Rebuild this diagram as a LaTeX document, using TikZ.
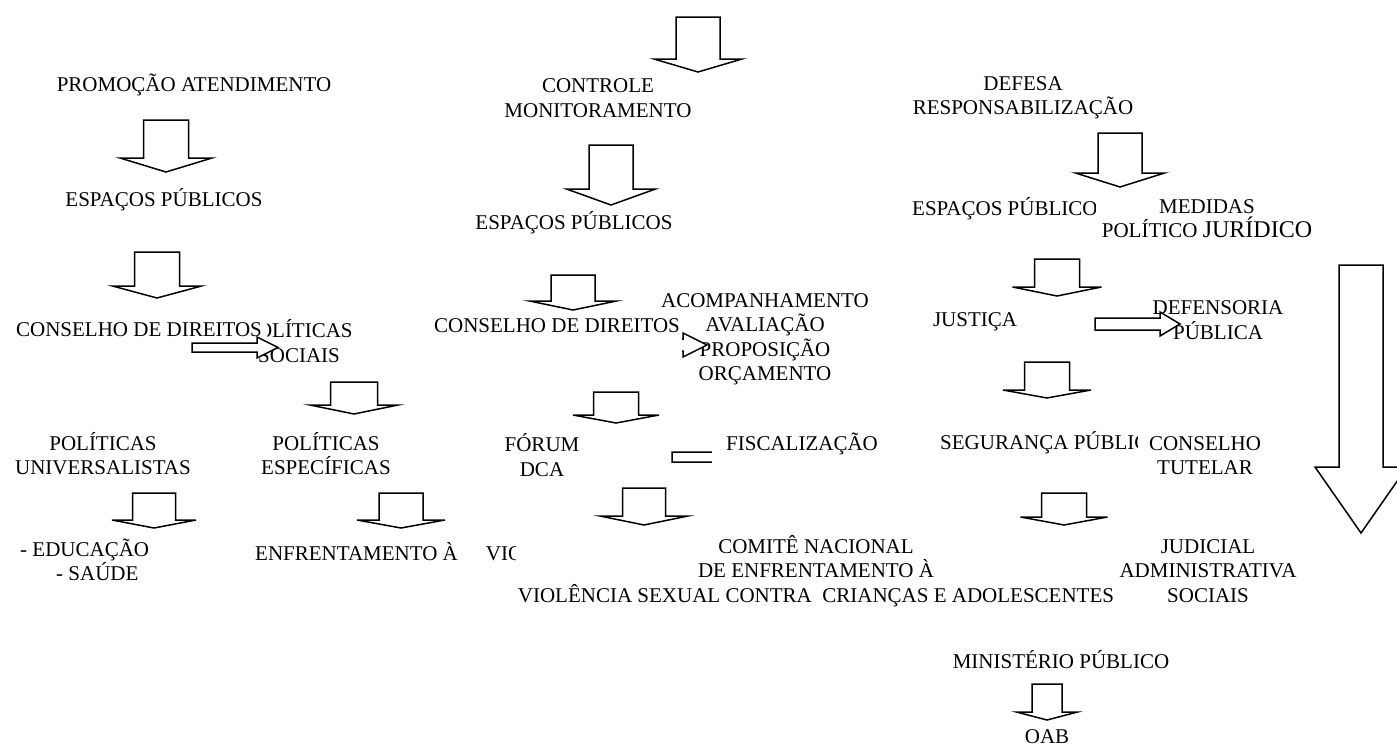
\documentclass[tikz,border=0pt]{standalone}
\usepackage{fontspec}
\setmainfont{Liberation Serif}
\usepackage{tikz}

% block arrow pointing down: centre x, top, wing, tip, body half width, head half width
\newcommand{\blockdown}[6]{%
  \draw[blockarr] ({#1-#5},#2) -- ({#1+#5},#2) -- ({#1+#5},#3) -- ({#1+#6},#3)
    -- (#1,#4) -- ({#1-#6},#3) -- ({#1-#5},#3) -- cycle;}
% block arrow pointing right: tail x, head x, tip x, centre y, body half, head half
\newcommand{\blockright}[6]{%
  \draw[blockarr] (#1,{#4-#5}) -- (#2,{#4-#5}) -- (#2,{#4-#6}) -- (#3,#4)
    -- (#2,{#4+#6}) -- (#2,{#4+#5}) -- (#1,{#4+#5}) -- cycle;}

\begin{document}
\begin{tikzpicture}[x=1pt,y=-1pt,
    blockarr/.style={draw, fill=white, line width=1.5pt, line join=miter},
    lbl/.style={font=\fontsize{21}{24.5}\selectfont, align=center, inner sep=2pt},
    cover/.style={lbl, fill=white}]

  \useasboundingbox (0,0) rectangle (1397,744);

  % promocao
  \node[lbl] (promo) at (194,85) {PROMOÇÃO ATENDIMENTO};
  \blockdown{166}{120}{158}{172}{22.5}{46}
  \node[lbl] (espL) at (164,200) {ESPAÇOS PÚBLICOS};
  \blockdown{157}{252}{286}{298}{22.5}{44.5}
  \node[lbl] (polSoc) at (299,341) {POLÍTICAS\\SOCIAIS};
  \node[cover, inner xsep=5pt] (consL) at (139,330) {CONSELHO DE DIREITOS};
  \blockright{192}{257}{278}{347.5}{4.5}{10.5}
  \blockdown{354}{382}{405}{414}{23.5}{44}
  \node[lbl] (polUni) at (103,453.5) {POLÍTICAS\\UNIVERSALISTAS};
  \node[lbl] (polEsp) at (326,453.5) {POLÍTICAS\\ESPECÍFICAS};
  \blockdown{154}{493}{520}{528}{21.5}{42}
  \blockdown{401}{493}{520}{528}{22}{44}
  \node[lbl, align=left, anchor=west] (edu) at (18,560) {- EDUCAÇÃO\\\hspace*{36pt}- SAÚDE};
  \node[lbl, anchor=base west] (enfr) at (253,560) {ENFRENTAMENTO À\hspace{28pt}VIO};

  % controle
  \blockdown{698}{17}{59}{72}{22}{44}
  \node[lbl] (ctrl) at (598,98) {CONTROLE\\MONITORAMENTO};
  \blockdown{611}{145}{189}{205}{22}{44.5}
  \node[lbl] (espC) at (574,223) {ESPAÇOS PÚBLICOS};
  \node[lbl] (acomp) at (765,339.5) {ACOMPANHAMENTO\\AVALIAÇÃO\\PROPOSIÇÃO\\ORÇAMENTO};
  \blockright{640}{683}{707}{345}{6}{12}
  \node[cover, anchor=base, text depth=21pt] (consC) at (557,332) {CONSELHO DE DIREITOS};
  \blockdown{573}{275}{301}{310}{22}{43.5}
  \blockdown{616}{392}{415}{423}{22.5}{43}
  \node[lbl] (forum) at (542,455) {FÓRUM\\DCA};
  \blockright{672}{745}{765}{457}{5}{11}
  \node[cover, inner xsep=14pt, inner ysep=15pt] (fisc) at (802,444) {FISCALIZAÇÃO};
  \blockdown{644}{488}{516}{525}{21.5}{44}
  \node[cover] (comite) at (816,571) {COMITÊ NACIONAL\\DE ENFRENTAMENTO À\\VIOLÊNCIA SEXUAL CONTRA~ CRIANÇAS E ADOLESCENTES};

  % defesa
  \node[lbl] (defesa) at (1023,98) {DEFESA\\RESPONSABILIZAÇÃO};
  \blockdown{1120}{133}{173}{187}{22}{44.5}
  \node[lbl, anchor=base west] (espR) at (910,215) {ESPAÇOS PÚBLICOS};
  \node[cover, inner xsep=6pt] (medidas) at (1207,218.5) {MEDIDAS\\POLÍTICO {\fontsize{24}{24.5}\selectfont JURÍDICO}};
  \blockdown{1057}{259}{287}{296}{22.5}{44.5}
  \node[lbl] (justica) at (975,322) {JUSTIÇA};
  \node[lbl] (defens) at (1218,320) {DEFENSORIA\\PÚBLICA};
  \blockright{1095}{1160}{1180}{324}{6}{12}
  \blockdown{1047}{362}{390}{398}{22.5}{44}
  \node[lbl, anchor=base west] (seg) at (938,449) {SEGURANÇA PÚBLICA};
  \node[cover, inner xsep=11pt] (tutelar) at (1205,455.5) {CONSELHO\\TUTELAR};
  \blockdown{1064}{493}{517}{525}{22.5}{43.5}
  \node[lbl] (judicial) at (1208,571) {JUDICIAL\\ADMINISTRATIVA\\SOCIAIS};
  \node[lbl] (minist) at (1061,660) {MINISTÉRIO PÚBLICO};
  \blockdown{1047}{684}{712}{720}{15}{30.5}
  \node[lbl] (oab) at (1047,737) {OAB};

  % big arrow
  \blockdown{1361}{265}{467}{533}{22}{46}
\end{tikzpicture}
\end{document}
